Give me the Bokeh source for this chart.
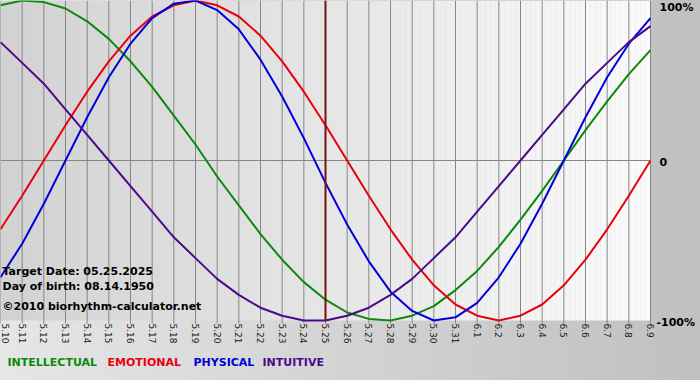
import math
import numpy as np
from bokeh.plotting import figure
from bokeh.models import Range1d
from bokeh.core.properties import value
from bokeh.embed import file_html
from bokeh.resources import INLINE

dates = ["5.10", "5.11", "5.12", "5.13", "5.14", "5.15", "5.16", "5.17", "5.18", "5.19",
         "5.20", "5.21", "5.22", "5.23", "5.24", "5.25", "5.26", "5.27", "5.28", "5.29",
         "5.30", "5.31", "6.1", "6.2", "6.3", "6.4", "6.5", "6.6", "6.7", "6.8", "6.9"]

physical = [-0.73, -0.52, -0.27, 0.00, 0.27, 0.52, 0.73, 0.89, 0.98, 1.00,
            0.94, 0.82, 0.63, 0.40, 0.14, -0.14, -0.40, -0.63, -0.82, -0.94,
            -1.00, -0.98, -0.89, -0.73, -0.52, -0.27, 0.00, 0.27, 0.52, 0.73, 0.89]
emotional = [-0.43, -0.22, 0.00, 0.22, 0.43, 0.62, 0.78, 0.90, 0.97, 1.00,
             0.97, 0.90, 0.78, 0.62, 0.43, 0.22, 0.00, -0.22, -0.43, -0.62,
             -0.78, -0.90, -0.97, -1.00, -0.97, -0.90, -0.78, -0.62, -0.43, -0.22, 0.00]
intellectual = [0.97, 1.00, 0.99, 0.95, 0.87, 0.76, 0.62, 0.46, 0.28, 0.10,
                -0.10, -0.28, -0.46, -0.62, -0.76, -0.87, -0.95, -0.99, -1.00, -0.97,
                -0.91, -0.81, -0.69, -0.54, -0.37, -0.19, 0.00, 0.19, 0.37, 0.54, 0.69]
intuitive = [0.74, 0.61, 0.48, 0.32, 0.16, 0.00, -0.16, -0.32, -0.48, -0.61,
             -0.74, -0.84, -0.92, -0.97, -1.00, -1.00, -0.97, -0.92, -0.84, -0.74,
             -0.61, -0.48, -0.32, -0.16, 0.00, 0.16, 0.32, 0.48, 0.61, 0.74, 0.84]

target_date = "5.25"
y_ticks = [1, 0, -1]
y_tick_labels = ["100%", "0", "-100%"]
info_lines = ["Target Date: 05.25.2025", "Day of birth: 08.14.1950", "\u00a92010 biorhythm-calculator.net"]
legend_names = ["INTELLECTUAL", "EMOTIONAL", "PHYSICAL", "INTUITIVE"]

C_INT = "#0a8a0a"
C_EMO = "#e8000e"
C_PHY = "#0000dd"
C_ITU = "#4b0a8c"
FONT = value("DejaVu Sans")

W, H = 700, 380
PLOT_W, PLOT_H = 650, 320          # pixel size of the chart area inside the canvas

x = list(range(len(dates)))
n = len(dates) - 1
x_end = n * W / PLOT_W
y_bot = 1 - 2 * H / PLOT_H

p = figure(width=W, height=H, output_backend="svg", toolbar_location=None,
           x_range=Range1d(0, x_end), y_range=Range1d(y_bot, 1),
           x_axis_location=None, y_axis_location=None,
           min_border_left=0, min_border_right=0, min_border_top=0, min_border_bottom=0)
p.border_fill_alpha = 0
p.background_fill_alpha = 0
p.outline_line_color = None
p.grid.visible = False

# gradient background of chart area
edges = np.linspace(0, n, 131)
shade = np.linspace(0xd2, 0xfb, 130).astype(int)
cols = ["#%02x%02x%02x" % (s, s, s) for s in shade]
p.quad(left=edges[:-1], right=edges[1:] + 0.01, bottom=-1, top=1, fill_color=cols, line_color=None)

# day grid lines (with small tick below) and zero line
p.segment(x0=x, y0=[-1.02] * len(x), x1=x, y1=[1] * len(x), line_color="#868686", line_width=1)
p.segment(x0=[0], y0=[0], x1=[n], y1=[0], line_color="#868686", line_width=1)

# curves
p.line(x, intellectual, line_color=C_INT, line_width=2)
p.line(x, emotional, line_color=C_EMO, line_width=2)
p.line(x, physical, line_color=C_PHY, line_width=2)
p.line(x, intuitive, line_color=C_ITU, line_width=2)

# target date marker
ti = dates.index(target_date)
p.segment(x0=[ti], y0=[-1], x1=[ti], y1=[1], line_color="#7a1010", line_width=2)

# date labels (rotated, reading downward); first one nudged so it stays inside the page
date_dx = [5] + [0] * (len(x) - 1)
p.text(x=x, y=[-1] * len(x), text=dates, angle=-math.pi / 2, x_offset=date_dx, y_offset=3,
       text_align="left", text_baseline="middle", text_font=FONT,
       text_font_size="9px", text_color="#1a1a1a")

# right side percent labels
p.text(x=[n] * 3, y=y_ticks, text=y_tick_labels,
       x_offset=[9, 9, 6], y_offset=[0, 1, 2],
       text_baseline=["top", "middle", "middle"], text_align="left",
       text_font=FONT, text_font_style="bold", text_font_size="11px", text_color="#000000")

# info text
p.text(x=[0] * 3, y=[-1] * 3, text=info_lines, x_offset=2, y_offset=[-49, -34, -14],
       text_align="left", text_baseline="middle", text_font=FONT,
       text_font_style="bold", text_font_size="11px", text_color="#000000")

# bottom legend
p.text(x=[0] * 4, y=[-1] * 4, text=legend_names, x_offset=[7, 107, 193, 262], y_offset=42,
       text_align="left", text_baseline="middle", text_font=FONT,
       text_font_style="bold", text_font_size="11px",
       text_color=[C_INT, C_EMO, C_PHY, C_ITU])

html = file_html(p, INLINE)
style = ("<style>html,body{margin:0;padding:0;overflow:hidden;"
         "background:linear-gradient(to right,#e6e6e6,#c0c0c0);}</style>")
html = html.replace("</head>", style + "</head>", 1)
open("out.html", "w").write(html)
